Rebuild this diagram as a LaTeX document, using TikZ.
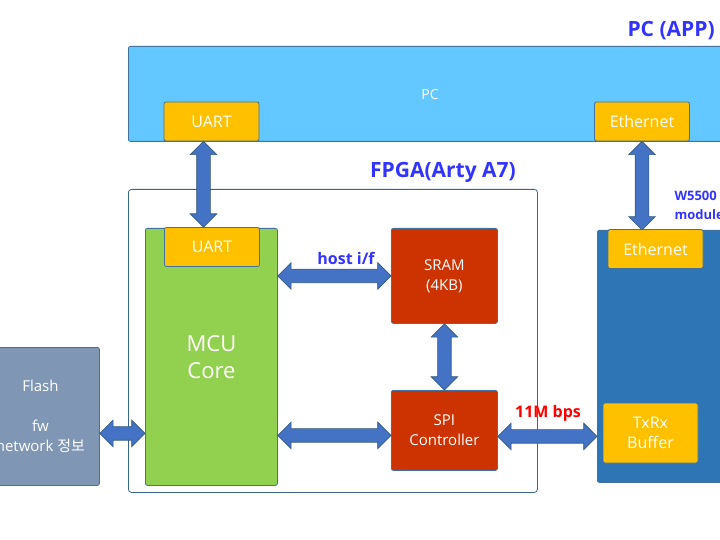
\documentclass[tikz,border=0pt]{standalone}
\usepackage{fontspec}
\setmainfont{Open Sans}
\newfontfamily\krfont{Noto Sans CJK KR}
\usepackage{tikz}
\usetikzlibrary{shapes, arrows.meta, positioning, calc}
\definecolor{PcBlue}{RGB}{99, 200, 255}
\definecolor{EdgeBlue}{RGB}{65, 113, 156}
\definecolor{BoxOrange}{RGB}{255, 192, 0}
\definecolor{CoreGreen}{RGB}{146, 208, 80}
\definecolor{ChipRed}{RGB}{204, 51, 0}
\definecolor{ModuleBlue}{RGB}{46, 117, 182}
\definecolor{FlashGray}{RGB}{127, 150, 180}
\definecolor{ArrowBlue}{RGB}{68, 114, 196}
\definecolor{TitleBlue}{RGB}{51, 51, 255}
\definecolor{RateRed}{RGB}{255, 0, 0}
\tikzset{
    block/.style={draw=EdgeBlue, line width=0.8pt, rounded corners=2pt, text=white, align=center, inner sep=0pt},
    port/.style={block, fill=BoxOrange, minimum width=95pt, minimum height=39pt, font=\fontsize{16}{18}\selectfont},
    dblarrow/.style={double arrow, draw=EdgeBlue!80!black, fill=ArrowBlue, line width=0.6pt, inner sep=6.5pt,
        double arrow head extend=6.5pt, double arrow tip angle=90},
    title/.style={font=\fontsize{21}{24}\selectfont\bfseries, text=TitleBlue},
    tag/.style={font=\fontsize{16}{18}\selectfont\bfseries},
}
% fat two-headed arrow between two named points
\newcommand{\fatarrow}[2]{%
    \path let \p1=(#1), \p2=(#2), \p3=($(#1)!0.5!(#2)$),
        \n1={veclen(\x2-\x1,\y2-\y1)}, \n2={atan2(\y2-\y1,\x2-\x1)} in
        node[dblarrow, minimum height=\n1, rotate=\n2] at (\p3) {};}

\begin{document}
\begin{tikzpicture}[x=1pt, y=-1pt]
    \useasboundingbox (0,0) rectangle (720,540);
    \clip (0,0) rectangle (720,540);

    % PC
    \node[block, fill=PcBlue, anchor=north west, minimum width=640pt, minimum height=95pt] (pc) at (128,46) {};
    \node[text=white, font=\fontsize{14}{16}\selectfont] (pclabel) at (430,95) {PC};
    \node[title, anchor=west] (pctitle) at (624,31) {PC (APP)};
    \node[port] (uartpc) at (211.5,121.5) {UART};
    \node[port] (ethpc) at (642,121.5) {Ethernet};

    % FPGA
    \node[draw=EdgeBlue!90!black, line width=0.8pt, rounded corners=3pt, anchor=north west,
        minimum width=409pt, minimum height=303pt] (fpga) at (128,189) {};
    \node[title] (fpgatitle) at (443,172) {FPGA(Arty A7)};
    \node[block, fill=CoreGreen, anchor=north west, minimum width=132pt, minimum height=257pt,
        font=\fontsize{22}{27}\selectfont] (mcu) at (145,228) {MCU\\Core};
    \node[port] (uartfp) at (212,247) {UART};
    \node[block, fill=ChipRed, anchor=north west, minimum width=106pt, minimum height=95pt,
        font=\fontsize{15}{20}\selectfont] (sram) at (391,228) {SRAM\\(4KB)};
    \node[block, fill=ChipRed, anchor=north west, minimum width=106pt, minimum height=80pt,
        font=\fontsize{15}{20}\selectfont] (spi) at (391,390) {SPI\\Controller};

    % W5500 module
    \node[block, fill=ModuleBlue, anchor=north west, minimum width=200pt, minimum height=252pt] (w5500) at (597,230) {};
    \node[font=\fontsize{13}{19}\selectfont\bfseries, text=TitleBlue, anchor=west, align=left] (w5500title) at (671,205) {W5500\\module};
    \node[port] (etham) at (655.5,249) {Ethernet};
    \node[port, minimum height=60pt, font=\fontsize{16}{20}\selectfont] (txrx) at (650.5,433) {TxRx\\Buffer};

    % Flash
    \node[block, fill=FlashGray, anchor=north west, minimum width=118pt, minimum height=138pt,
        font=\fontsize{15}{20}\selectfont] (flash) at (-19,347) {Flash\\[20pt]fw\\network {\krfont 정보}};

    \node[tag, text=TitleBlue] (hostif) at (346,258) {host i/f};
    \node[tag, text=RateRed] (rate) at (548,413) {11M bps};

    % link ends
    \coordinate (uartup) at ($(uartpc.south)+(-8,0)$);
    \coordinate (uartdown) at (uartup |- uartfp.north);
    \coordinate (ethdown) at (ethpc.south |- w5500.north);
    \coordinate (hostl) at (mcu.east |- sram.west);
    \coordinate (spil) at ($(spi.west)+(0,5)$);
    \coordinate (corer) at (mcu.east |- spil);
    \coordinate (spir) at ($(spi.east)+(0,6)$);
    \coordinate (modl) at (w5500.west |- spir);
    \coordinate (flashr) at ($(flash.east)+(0,17)$);
    \coordinate (corel) at (mcu.west |- flashr);

    \fatarrow{uartup}{uartdown}
    \fatarrow{ethpc.south}{ethdown}
    \fatarrow{hostl}{sram.west}
    \fatarrow{corer}{spil}
    \fatarrow{sram.south}{spi.north}
    \fatarrow{spir}{modl}
    \fatarrow{flashr}{corel}
\end{tikzpicture}
\end{document}
